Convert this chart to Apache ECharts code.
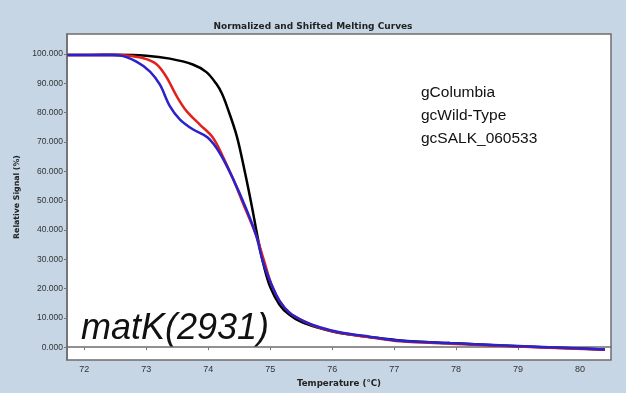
<!DOCTYPE html>
<html><head><meta charset="utf-8">
<script src="https://cdn.jsdelivr.net/npm/echarts@6/dist/echarts.min.js"></script>
<style>html,body{margin:0;padding:0;background:#c6d6e5;}#c{width:626px;height:393px;}</style>
</head><body><div id="c"></div>
<script>
var seriesNames = ['gColumbia', 'gcWild-Type', 'gcSALK_060533'];
var xTicks = [72, 73, 74, 75, 76, 77, 78, 79, 80];
var yTicks = [0, 10, 20, 30, 40, 50, 60, 70, 80, 90, 100];
var annotation = 'matK(2931)';

var columbia = [[71.73,99.6],[72.5,99.7],[73.0,99.4],[73.38,98.4],[73.75,96.4],[73.97,93.8],[74.13,89.8],[74.22,86.5],[74.3,82.2],[74.46,72],[74.59,59.8],[74.7,48.4],[74.8,37.2],[74.9,27.5],[75.0,20.5],[75.15,14.5],[75.3,11.2],[75.5,8.6],[75.8,6.5],[76.1,4.9],[76.6,3.5],[77.1,2.3],[77.9,1.4],[78.7,0.6],[79.5,-0.1],[80.4,-0.8]];
var wildType = [[71.73,99.6],[72.4,99.7],[72.68,99.5],[72.94,98.6],[73.16,96.6],[73.32,92.3],[73.49,85.6],[73.65,80.5],[73.86,76],[74.07,71.6],[74.23,65.3],[74.4,57.4],[74.55,49.6],[74.77,38.3],[74.9,29.5],[75.02,21.4],[75.15,15.8],[75.31,11.8],[75.53,9],[75.8,6.6],[76.12,4.9],[76.6,3.4],[77.1,2.0],[77.9,1.2],[78.7,0.5],[79.5,-0.2],[80.4,-0.9]];
var salk = [[71.73,99.6],[72.3,99.7],[72.57,99.5],[72.84,97.4],[73.06,94],[73.22,89.5],[73.38,82.2],[73.54,77.7],[73.75,74.3],[73.99,71.5],[74.18,66.4],[74.4,57.4],[74.61,47.3],[74.77,38.3],[74.88,29.3],[75.02,21.4],[75.15,15.8],[75.31,11.8],[75.53,9],[75.8,6.8],[76.12,5.1],[76.6,3.6],[77.1,2.2],[77.9,1.4],[78.7,0.7],[79.5,0],[80.4,-0.8]];

var colors = ['#000000', '#e3211c', '#2b22cc'];
var chart = echarts.init(document.getElementById('c'));
chart.setOption({
  backgroundColor:'#c6d6e5',
  animation:false,
  title:{text:'Normalized and Shifted Melting Curves', left:'center', top:17,
    textStyle:{fontFamily:'DejaVu Sans', fontWeight:'bold', fontSize:9, color:'#222'}},
  grid:{left:67, top:34, right:15, bottom:30, show:true, backgroundColor:'#ffffff', borderColor:'#6e6e6e', borderWidth:1.5},
  xAxis:{type:'value', min:71.72, max:80.5,
    name:'Temperature (°C)', nameLocation:'middle', nameGap:15,
    nameTextStyle:{fontFamily:'DejaVu Sans', fontWeight:'bold', fontSize:8.7, color:'#222'},
    axisLine:{show:true, lineStyle:{color:'#6e6e6e', width:1.5}},
    axisTick:{show:true, length:3, customValues:xTicks, lineStyle:{color:'#777'}},
    axisLabel:{customValues:xTicks, margin:5, formatter:function(v){return String(Math.round(v));}, fontFamily:'Arial', fontSize:9, color:'#333'},
    splitLine:{show:false}},
  yAxis:{type:'value', min:-4.4, max:106.8,
    name:'Relative Signal (%)', nameLocation:'middle', nameGap:43, nameRotate:90,
    nameTextStyle:{fontFamily:'DejaVu Sans', fontWeight:'bold', fontSize:7.8, color:'#222'},
    axisLine:{show:true, lineStyle:{color:'#6e6e6e', width:1.5}},
    axisTick:{show:true, length:3, customValues:yTicks, lineStyle:{color:'#777'}},
    axisLabel:{customValues:yTicks, margin:4, formatter:function(v){return Math.round(v).toFixed(3);}, fontFamily:'Arial', fontSize:8.5, color:'#333'},
    splitLine:{show:false}},
  series:[columbia, wildType, salk].map(function(d,i){
    return {name:seriesNames[i], type:'line', data:d, smooth:0.35, showSymbol:false,
      lineStyle:{color:colors[i], width:2.5}, itemStyle:{color:colors[i]}, z:2+i};
  }),
  graphic:[
    {type:'text', left:421, top:85, style:{text:seriesNames[0], font:'15.5px Arial', fill:'#111'}},
    {type:'text', left:421, top:108, style:{text:seriesNames[1], font:'15.5px Arial', fill:'#111'}},
    {type:'text', left:421, top:131, style:{text:seriesNames[2], font:'15.5px Arial', fill:'#111'}},
    {type:'text', left:81, top:311, style:{text:annotation, font:'italic 36px Arial', fill:'#111'}}
  ]
});
</script></body></html>
